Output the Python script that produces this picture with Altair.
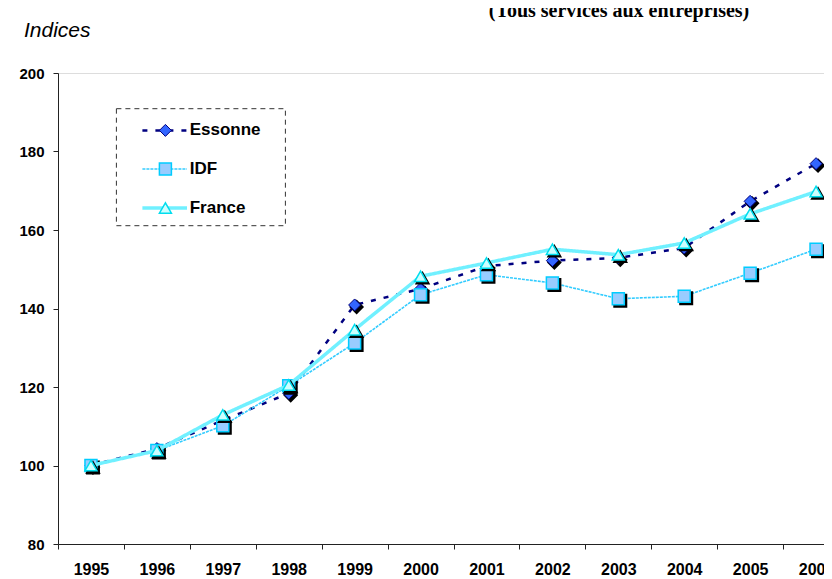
import altair as alt
import pandas as pd

years = [str(y) for y in range(1995, 2007)]
essonne = [100, 104.3, 111.5, 118.4, 140.9, 145.0, 150.8, 152.2, 152.9, 155.4, 167.3, 176.9]
idf = [100, 103.8, 110.1, 120.3, 131.2, 143.5, 148.6, 146.5, 142.5, 143.1, 149.0, 155.1]
france = [100, 103.8, 112.9, 120.5, 134.6, 148.2, 151.6, 155.1, 153.7, 156.7, 164.1, 169.8]
series_names = ["Essonne", "IDF", "France"]
y_ticks = [80, 100, 120, 140, 160, 180, 200]
title_text = "(Tous services aux entreprises)"
y_label = "Indices"

FONT = "Liberation Sans"

styles = {
    "Essonne": dict(line="#000080", width=2.5, dash=[5, 8], shape="diamond",
                    fill="#3366FF", stroke="#000080", sw=1),
    "IDF": dict(line="#33CCFF", width=1.6, dash=[3, 1], shape="square",
                fill="#99CCFF", stroke="#00CCFF", sw=1.5),
    "France": dict(line="#70F0FF", width=3.5, dash=[1, 0], shape="triangle-up",
                   fill="#CCFFFF", stroke="#00DDEE", sw=1.5),
}
values = {"Essonne": essonne, "IDF": idf, "France": france}

x_enc = alt.X(
    "year:O",
    bandPosition=0.5,
    scale=alt.Scale(type="band", paddingInner=0, paddingOuter=0, range=[0, 791]),
    axis=alt.Axis(
        title=None, labelAngle=0, tickBand="extent", tickSize=5, labelPadding=12,
        labelFont=FONT, labelFontSize=16, labelFontWeight="bold", labelColor="black",
        domainColor="#222222", tickColor="#222222", labelBaseline="top",
    ),
)
y_enc = alt.Y(
    "value:Q",
    scale=alt.Scale(domain=[80, 200], nice=False, zero=False),
    axis=alt.Axis(
        title=None, values=y_ticks, grid=False, tickSize=5, labelPadding=9,
        labelFont=FONT, labelFontSize=15, labelFontWeight="bold", labelColor="black",
        domainColor="#222222", tickColor="#222222",
    ),
)

layers = []
for name in series_names:
    st = styles[name]
    d = pd.DataFrame({"year": years, "value": values[name]})
    base = alt.Chart(d).encode(x=x_enc, y=y_enc)
    layers.append(base.mark_line(color=st["line"], strokeWidth=st["width"], strokeDash=st["dash"]))
    layers.append(base.mark_point(shape=st["shape"], size=144, filled=True, fill="black",
                                  stroke="black", opacity=1, xOffset=2, yOffset=2))
    layers.append(base.mark_point(shape=st["shape"], size=144, filled=True, fill=st["fill"],
                                  stroke=st["stroke"], strokeWidth=st["sw"], opacity=1))

# legend
one = pd.DataFrame({"k": [0]})
layers.append(alt.Chart(one).mark_rect(fillOpacity=0, stroke="#333333", strokeWidth=1,
                                       strokeDash=[5, 4]).encode(
    x=alt.value(58.4), x2=alt.value(227.4), y=alt.value(35.7), y2=alt.value(152.7)))
leg_y = [57.4, 96.0, 135.0]
for name, yy in zip(series_names, leg_y):
    st = styles[name]
    ld = pd.DataFrame({"label": [name]})
    layers.append(alt.Chart(ld).mark_rule(color=st["line"], strokeWidth=st["width"],
                                          strokeDash=st["dash"]).encode(
        x=alt.value(84.4), x2=alt.value(129), y=alt.value(yy)))
    layers.append(alt.Chart(ld).mark_point(shape=st["shape"], size=144, filled=True,
                                           fill=st["fill"], stroke=st["stroke"],
                                           strokeWidth=st["sw"], opacity=1).encode(
        x=alt.value(107.4), y=alt.value(yy)))
    layers.append(alt.Chart(ld).mark_text(align="left", baseline="middle", font=FONT,
                                          fontSize=17, fontWeight="bold", color="black").encode(
        x=alt.value(131.7), y=alt.value(yy), text="label:N"))

# titles
layers.append(alt.Chart(pd.DataFrame({"t": [title_text]})).mark_text(
    align="center", baseline="alphabetic", font="Liberation Serif", fontSize=20,
    fontWeight="bold", color="black").encode(
    x=alt.value(561), y=alt.value(-56), text="t:N"))
layers.append(alt.Chart(pd.DataFrame({"t": [y_label]})).mark_text(
    align="left", baseline="alphabetic", font=FONT, fontSize=21, fontStyle="italic",
    color="black").encode(
    x=alt.value(-34), y=alt.value(-36), text="t:N"))

chart = alt.layer(*layers).properties(
    width=766, height=471,
    autosize=alt.AutoSizeParams(type="none"),
    padding={"left": 50, "top": 65, "right": 0, "bottom": 40},
).configure_view(stroke=None).configure(background="white")

chart.save("out.html", embed_options={"renderer": "svg", "actions": False})
